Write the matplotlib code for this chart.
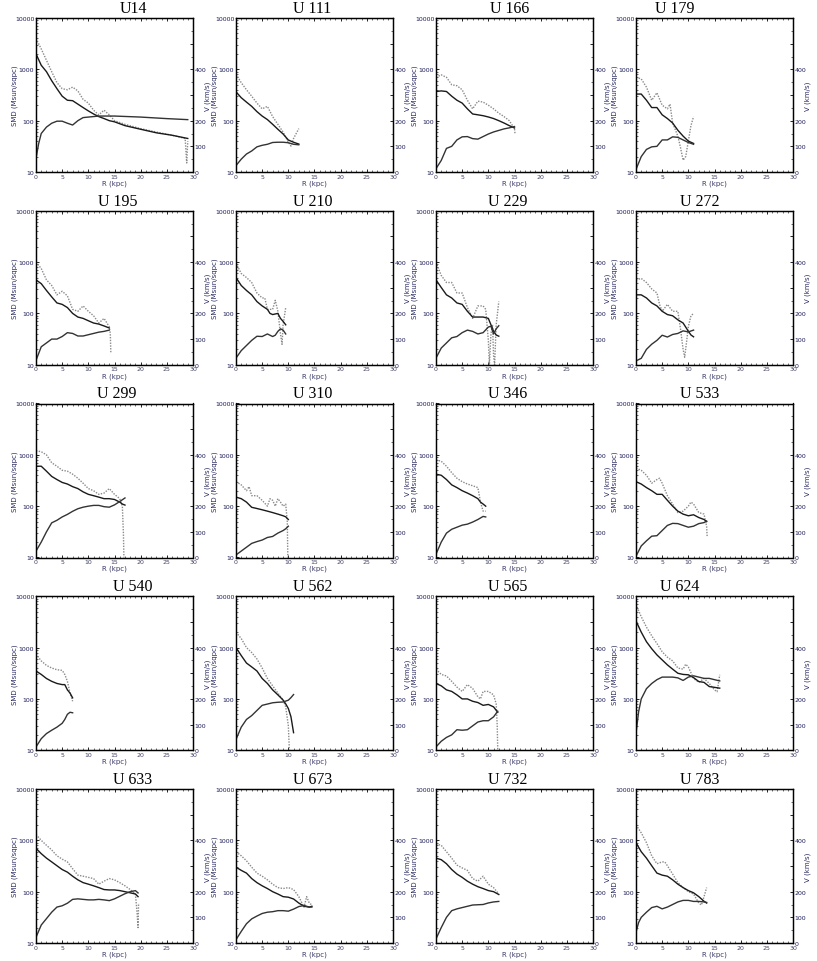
import numpy as np
import matplotlib
matplotlib.use("Agg")
import matplotlib.pyplot as plt
from matplotlib.ticker import FixedLocator, NullFormatter, MultipleLocator

# ---------------- data ----------------
NAMES = ["U14", "U 111", "U 166", "U 179",
         "U 195", "U 210", "U 229", "U 272",
         "U 299", "U 310", "U 346", "U 533",
         "U 540", "U 562", "U 565", "U 624",
         "U 633", "U 673", "U 732", "U 783"]

# each galaxy: solid SMD (r, Msun/pc^2), dotted SMD (r, Msun/pc^2), rotation curve (r, km/s)
U14 = dict(
    solid=([0, 1, 2, 3, 4, 5, 6, 7, 8, 9, 10, 11, 12, 13, 14, 15, 17, 20, 23, 26, 29],
           [2000, 1200, 900, 600, 420, 300, 250, 245, 210, 180, 155, 135, 120, 110, 100, 95, 80, 68, 58, 52, 45]),
    dotted=([0, 1, 2, 3, 4, 5, 6, 7, 8, 9, 10, 11, 12, 13, 14, 15, 17, 20, 23, 26, 28.5, 28.8, 29],
            [4000, 2500, 1500, 900, 550, 420, 400, 450, 380, 260, 220, 160, 130, 160, 130, 100, 85, 70, 60, 52, 45, 15, 40]),
    rot=([0, 0.5, 1, 2, 3, 4, 5, 6, 7, 8, 9, 10, 12, 15, 20, 25, 29],
         [52, 110, 150, 175, 190, 198, 198, 190, 183, 200, 212, 214, 218, 218, 214, 208, 204]))
U111 = dict(
    solid=([0, 1, 2, 3, 4, 5, 6, 7, 8, 9, 10, 11, 12],
           [365, 280, 230, 190, 150, 123, 105, 85, 68, 55, 42, 38, 35]),
    dotted=([0, 1, 2, 3, 4, 5, 6, 7, 8, 9, 10, 10.5, 11, 12],
            [800, 550, 400, 300, 220, 170, 190, 120, 85, 60, 38, 32, 45, 70]),
    rot=([0, 1, 2, 3, 4, 5, 6, 7, 8, 9, 10, 11, 12],
         [25, 50, 70, 82, 98, 104, 108, 115, 116, 116, 114, 108, 106]))
U166 = dict(
    solid=([0, 1, 2, 3, 4, 5, 6, 7, 8, 9, 10, 11, 12, 13, 14, 15],
           [370, 380, 370, 300, 250, 220, 170, 135, 130, 125, 118, 110, 100, 90, 80, 72]),
    dotted=([0, 1, 2, 3, 4, 5, 6, 7, 8, 9, 10, 11, 12, 13, 14, 15, 15.1],
            [700, 780, 700, 500, 480, 400, 250, 170, 240, 230, 200, 170, 140, 120, 100, 70, 55]),
    rot=([0, 1, 2, 3, 4, 5, 6, 7, 8, 9, 10, 11, 12, 13, 14, 15],
         [13, 45, 92, 100, 125, 137, 138, 130, 128, 138, 148, 156, 162, 168, 172, 177]))
U179 = dict(
    solid=([0, 1, 2, 3, 4, 5, 6, 7, 8, 9, 10, 11],
           [330, 330, 250, 180, 180, 130, 110, 90, 65, 50, 40, 36]),
    dotted=([0, 1, 2, 3, 4, 5, 6, 6.5, 7, 8, 8.5, 9, 9.5, 10, 10.5, 11],
            [700, 650, 450, 250, 350, 200, 170, 210, 90, 50, 30, 17, 20, 40, 80, 120]),
    rot=([0, 1, 2, 3, 4, 5, 6, 7, 8, 9, 10, 11],
         [10, 60, 88, 98, 100, 125, 125, 137, 135, 125, 115, 108]))
U195 = dict(
    solid=([0, 1, 2, 3, 4, 5, 6, 7, 8, 9, 10, 11, 12, 13, 14],
           [450, 380, 280, 210, 160, 150, 130, 100, 85, 80, 72, 65, 62, 57, 52]),
    dotted=([0, 1, 2, 3, 4, 5, 6, 7, 8, 9, 10, 11, 12, 13, 14, 14.2, 14.3],
            [1000, 750, 450, 350, 230, 270, 220, 120, 110, 140, 110, 90, 65, 80, 55, 40, 17]),
    rot=([0, 1, 2, 3, 4, 5, 6, 7, 8, 9, 10, 11, 12, 13, 14],
         [17, 70, 85, 100, 100, 110, 125, 122, 112, 112, 117, 122, 127, 130, 135]))
U210 = dict(
    solid=([0, 1, 2, 3, 4, 5, 6, 6.5, 7, 8, 8.5, 9, 9.5],
           [500, 350, 280, 230, 170, 140, 120, 100, 95, 100, 80, 70, 60]),
    dotted=([0, 1, 2, 3, 4, 5, 5.5, 6, 7, 7.5, 8, 8.5, 8.8, 9, 9.5],
            [950, 600, 500, 400, 250, 200, 200, 120, 120, 180, 110, 40, 25, 60, 130]),
    rot=([0, 1, 2, 3, 4, 5, 6, 7, 7.5, 8, 8.5, 9, 9.5],
         [26, 55, 75, 95, 111, 110, 120, 110, 115, 130, 140, 135, 120]))
U229 = dict(
    solid=([0, 1, 2, 3, 4, 5, 6, 7, 8, 9, 10, 10.5, 11, 11.5, 12],
           [450, 320, 230, 200, 160, 150, 110, 85, 85, 85, 80, 60, 45, 38, 36]),
    dotted=([0, 1, 2, 3, 4, 5, 6, 7, 8, 9, 9.5, 10, 10.2, 10.5, 10.8, 11, 11.2, 11.5, 12],
            [1000, 550, 400, 400, 250, 250, 130, 80, 140, 140, 120, 30, 10, 40, 60, 15, 10, 60, 170]),
    rot=([0, 1, 2, 3, 4, 5, 6, 7, 8, 9, 10, 10.5, 11, 11.5, 12],
         [26, 65, 85, 105, 110, 125, 135, 130, 120, 125, 147, 150, 120, 140, 152]))
U272 = dict(
    solid=([0, 1, 2, 3, 4, 5, 6, 7, 8, 9, 10, 10.5, 11],
           [230, 230, 200, 160, 140, 110, 95, 90, 75, 65, 45, 38, 35]),
    dotted=([0, 1, 2, 3, 4, 4.5, 5, 6, 7, 8, 8.5, 9, 9.3, 9.7, 10, 10.5, 11],
            [450, 480, 400, 300, 250, 150, 110, 150, 110, 110, 50, 20, 14, 30, 55, 90, 100]),
    rot=([0, 1, 2, 3, 4, 5, 6, 7, 8, 9, 10, 11],
         [15, 25, 60, 80, 95, 115, 108, 118, 122, 132, 128, 135]))
U299 = dict(
    solid=([0, 1, 2, 3, 4, 5, 6, 7, 8, 9, 10, 11, 12, 13, 14, 15, 16, 16.5, 17],
           [600, 600, 480, 380, 330, 290, 270, 240, 220, 190, 170, 160, 150, 140, 140, 135, 120, 110, 105]),
    dotted=([0, 1, 2, 3, 4, 5, 6, 7, 8, 9, 10, 11, 12, 13, 14, 15, 16, 16.5, 16.7, 16.8],
            [1200, 1150, 1000, 700, 600, 500, 480, 420, 350, 280, 220, 200, 170, 180, 220, 170, 140, 100, 30, 10]),
    rot=([0, 1, 2, 3, 4, 5, 6, 7, 8, 9, 10, 11, 12, 13, 14, 15, 16, 17],
         [25, 60, 100, 135, 145, 158, 168, 180, 190, 196, 200, 203, 203, 198, 196, 205, 218, 232]))
U310 = dict(
    solid=([0, 1, 2, 3, 4, 5, 6, 7, 8, 9, 9.5, 10],
           [150, 140, 120, 95, 90, 85, 80, 75, 70, 65, 62, 55]),
    dotted=([0, 1, 2, 2.5, 3, 4, 5, 6, 6.5, 7, 7.5, 8, 8.5, 9, 9.5, 9.8, 9.9],
            [300, 260, 200, 240, 160, 160, 130, 100, 140, 130, 100, 140, 120, 100, 110, 50, 10]),
    rot=([0, 1, 2, 3, 4, 5, 6, 7, 8, 9, 9.5, 10],
         [10, 25, 40, 55, 62, 68, 78, 82, 95, 105, 112, 122]))
U346 = dict(
    solid=([0, 1, 2, 3, 4, 5, 6, 7, 8, 8.5, 9, 9.5],
           [420, 400, 330, 260, 230, 200, 180, 160, 140, 120, 110, 100]),
    dotted=([0, 1, 2, 3, 4, 5, 6, 7, 8, 8.5, 9, 9.5],
            [800, 750, 600, 450, 350, 300, 270, 250, 230, 120, 80, 80]),
    rot=([0, 1, 2, 3, 4, 5, 6, 7, 8, 9, 9.5],
         [13, 60, 95, 110, 118, 126, 130, 138, 148, 160, 158]))
U533 = dict(
    solid=([0, 1, 2, 3, 4, 5, 6, 7, 8, 9, 10, 11, 12, 13, 13.5],
           [300, 270, 230, 200, 170, 170, 130, 100, 80, 70, 65, 68, 60, 55, 50]),
    dotted=([0, 1, 2, 3, 4, 4.5, 5, 6, 7, 8, 9, 10, 10.5, 11, 12, 13, 13.5, 13.6],
            [550, 500, 400, 280, 330, 350, 280, 160, 110, 75, 80, 100, 120, 110, 75, 70, 40, 25]),
    rot=([0, 1, 2, 3, 4, 5, 6, 7, 8, 9, 10, 11, 12, 13, 13.5],
         [5, 45, 65, 83, 85, 105, 125, 133, 132, 125, 118, 122, 132, 136, 142]))
U540 = dict(
    solid=([0, 1, 2, 3, 4, 5, 5.5, 6, 6.5, 7],
           [350, 300, 250, 220, 200, 190, 190, 150, 130, 105]),
    dotted=([0, 1, 2, 3, 4, 5, 5.5, 6, 6.5, 7],
            [750, 550, 450, 400, 370, 360, 300, 220, 130, 90]),
    rot=([0, 1, 2, 3, 4, 5, 5.5, 6, 6.5, 7],
         [13, 45, 65, 78, 90, 105, 120, 140, 148, 146]))
U562 = dict(
    solid=([0, 1, 2, 3, 4, 5, 6, 7, 8, 9, 9.5, 10, 10.5, 11],
           [1000, 700, 500, 420, 350, 250, 200, 150, 120, 95, 80, 65, 45, 22]),
    dotted=([0, 1, 2, 3, 4, 5, 6, 7, 8, 9, 9.5, 10, 10.2],
            [2000, 1500, 1000, 800, 600, 400, 250, 180, 130, 95, 70, 30, 10]),
    rot=([0, 1, 2, 3, 4, 5, 6, 7, 8, 9, 10, 10.5, 11],
         [42, 90, 120, 135, 155, 175, 180, 185, 187, 188, 195, 205, 217]))
U565 = dict(
    solid=([0, 1, 2, 3, 4, 5, 6, 7, 8, 9, 10, 11, 11.5, 11.8],
           [200, 180, 150, 140, 120, 100, 100, 90, 85, 75, 78, 70, 60, 55]),
    dotted=([0, 1, 2, 3, 4, 5, 6, 7, 8, 8.5, 9, 10, 11, 11.5, 11.7, 11.8],
            [380, 300, 280, 220, 170, 140, 190, 160, 110, 100, 140, 140, 120, 80, 30, 10]),
    rot=([0, 1, 2, 3, 4, 5, 6, 7, 8, 9, 10, 11, 11.8],
         [13, 35, 50, 60, 80, 78, 80, 95, 110, 115, 115, 130, 152]))
U624 = dict(
    solid=([0, 1, 2, 3, 4, 5, 6, 7, 8, 9, 10, 11, 12, 13, 14, 15, 16],
           [3300, 2000, 1300, 950, 720, 575, 460, 380, 316, 300, 295, 260, 218, 210, 174, 168, 162]),
    dotted=([0, 1, 2, 3, 4, 5, 6, 7, 8, 9, 9.5, 10, 11, 12, 13, 14, 15, 15.5, 16],
            [6900, 4000, 2500, 1700, 1200, 830, 650, 550, 400, 380, 475, 420, 250, 210, 250, 200, 150, 138, 295]),
    rot=([0, 0.5, 1, 2, 3, 4, 5, 6, 7, 8, 9, 10, 11, 12, 13, 14, 15, 16],
         [65, 150, 200, 240, 260, 275, 285, 285, 285, 282, 272, 285, 290, 285, 280, 280, 275, 270]))
U633 = dict(
    solid=([0, 1, 2, 3, 4, 5, 6, 7, 8, 9, 10, 11, 12, 13, 14, 15, 16, 17, 18, 19, 19.5],
           [700, 550, 450, 380, 320, 270, 240, 200, 170, 150, 140, 130, 120, 110, 108, 108, 105, 100, 95, 90, 80]),
    dotted=([0, 1, 2, 3, 4, 5, 6, 7, 8, 9, 10, 11, 12, 13, 14, 15, 16, 17, 18, 19, 19.3, 19.5, 19.6],
            [1300, 1000, 800, 650, 500, 430, 380, 280, 210, 200, 190, 180, 140, 160, 180, 170, 150, 130, 110, 90, 40, 20, 60]),
    rot=([0, 1, 2, 3, 4, 5, 6, 7, 8, 9, 10, 11, 12, 13, 14, 15, 16, 17, 18, 19, 19.5],
         [22, 70, 95, 120, 140, 145, 155, 170, 172, 170, 168, 168, 170, 168, 165, 172, 182, 192, 200, 204, 195]))
U673 = dict(
    solid=([0, 1, 2, 3, 4, 5, 6, 7, 8, 9, 10, 11, 12, 13, 14, 14.5],
           [300, 260, 230, 180, 150, 130, 115, 100, 90, 80, 78, 72, 60, 52, 50, 52]),
    dotted=([0, 1, 2, 3, 4, 5, 6, 7, 8, 9, 10, 11, 12, 13, 13.5, 14, 14.5],
            [600, 500, 400, 300, 230, 200, 170, 140, 120, 115, 120, 110, 80, 50, 80, 60, 55]),
    rot=([0, 1, 2, 3, 4, 5, 6, 7, 8, 9, 10, 11, 12, 13, 14, 14.5],
         [13, 45, 75, 94, 105, 115, 120, 122, 126, 126, 124, 132, 142, 146, 140, 140]))
U732 = dict(
    solid=([0, 1, 2, 3, 4, 5, 6, 7, 8, 9, 10, 11, 12],
           [450, 420, 350, 270, 220, 190, 160, 140, 125, 115, 105, 100, 88]),
    dotted=([0, 1, 2, 3, 4, 5, 6, 7, 8, 9, 10, 11, 12],
            [850, 800, 600, 450, 330, 290, 260, 180, 160, 200, 140, 120, 90]),
    rot=([0, 1, 2, 3, 4, 5, 6, 7, 8, 9, 10, 11, 12],
         [16, 60, 100, 126, 133, 138, 143, 148, 149, 150, 156, 160, 162]))
U783 = dict(
    solid=([0, 1, 2, 3, 4, 5, 6, 7, 8, 9, 10, 11, 12, 13, 13.5],
           [900, 600, 450, 320, 230, 210, 200, 170, 140, 120, 105, 95, 80, 65, 60]),
    dotted=([0, 1, 2, 3, 4, 5, 5.5, 6, 7, 8, 9, 10, 11, 12, 12.5, 13, 13.5],
            [2000, 1400, 900, 500, 350, 380, 380, 320, 220, 150, 120, 100, 90, 60, 55, 80, 120]),
    rot=([0, 0.5, 1, 2, 3, 4, 5, 6, 7, 8, 9, 10, 11, 12, 13, 13.5],
         [42, 80, 100, 120, 138, 143, 133, 140, 150, 160, 166, 166, 162, 162, 160, 158]))

GALAXIES = [U14, U111, U166, U179, U195, U210, U229, U272, U299, U310,
            U346, U533, U540, U562, U565, U624, U633, U673, U732, U783]

SMD_TICKS = [10, 100, 1000, 10000]
V_TICKS = [0, 100, 200, 300, 400, 500]
V_TICK_LABELS = ["0", "100", "200", "", "400", ""]
R_TICKS = [0, 5, 10, 15, 20, 25, 30]

# ---------------- layout ----------------
W, H = 817, 962
fig = plt.figure(figsize=(W / 100, H / 100), dpi=100)

AX_W, AX_H = 157, 154
TITLE_X = [133, 312, 510, 675,
           118, 313, 508, 700,
           117, 313, 508, 700,
           133, 313, 508, 680,
           133, 313, 508, 700]

TICK_COL = "#1c1c5a"
LAB_COL = "#2a2a60"
SOLID_COL = "#1a1a1a"
ROT_COL = "#333333"
DOT_COL = "#8a8a8a"

for k, (name, g) in enumerate(zip(NAMES, GALAXIES)):
    row, col = divmod(k, 4)
    left_px = 36 + 200 * col
    top_px = 19 + 192.75 * row
    ax = fig.add_axes([left_px / W, 1 - (top_px + AX_H) / H, AX_W / W, AX_H / H])
    ax.set_yscale("log")
    ax.set_xlim(0, 30)
    ax.set_ylim(10, 10000)

    ax.plot(*g["dotted"], linestyle=(0, (1, 1)), color=DOT_COL, lw=1.0)
    ax.plot(*g["solid"], color=SOLID_COL, lw=1.0)

    ax2 = ax.twinx()
    ax2.set_ylim(0, 600)
    ax2.plot(*g["rot"], color=ROT_COL, lw=1.0)

    # ticks
    ax.xaxis.set_major_locator(FixedLocator(R_TICKS))
    ax.xaxis.set_minor_locator(MultipleLocator(1))
    ax.set_yticks(SMD_TICKS)
    ax.set_yticklabels([str(t) for t in SMD_TICKS])
    ax.yaxis.set_minor_formatter(NullFormatter())
    ax2.set_yticks(V_TICKS)
    ax2.set_yticklabels(V_TICK_LABELS)
    ax2.yaxis.set_minor_locator(MultipleLocator(50))

    for a in (ax, ax2):
        a.tick_params(which="major", direction="in", length=2.5, width=0.6,
                      labelsize=4.5, labelcolor=TICK_COL, pad=1.2)
        a.tick_params(which="minor", direction="in", length=1.2, width=0.4)
        for s in a.spines.values():
            s.set_linewidth(0.9)
    ax.tick_params(axis="x", top=True, which="both", labelcolor="#444466")

    ax.set_xlabel("R (kpc)", fontsize=5, color="#3a3a6a", labelpad=0.5)
    ax.set_ylabel("SMD (Msun/sqpc)", fontsize=5, color=LAB_COL)
    ax.yaxis.set_label_coords(-0.115, 0.5)
    ax2.set_ylabel("V (km/s)", fontsize=5, color=LAB_COL)
    ax2.yaxis.set_label_coords(1.075, 0.5)

    fig.text(TITLE_X[k] / W, 1 - (top_px - 10) / H, name, ha="center", va="center",
             fontsize=11.5, family=["Liberation Serif", "DejaVu Serif"])

fig.savefig("out.png", dpi=100)
